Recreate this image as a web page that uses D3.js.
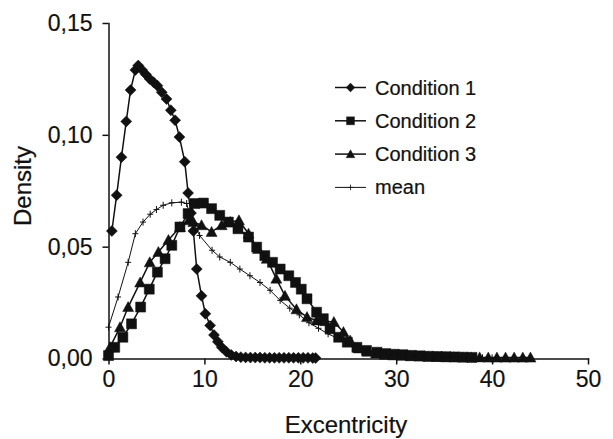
<!DOCTYPE html>
<html>
<head>
<meta charset="utf-8">
<script src="https://cdn.jsdelivr.net/npm/d3@7"></script>
<style>
  body { margin: 0; background: #fff; }
  svg { display: block; font-family: "Liberation Sans", Arial, sans-serif; }
  .axis path, .axis line { stroke: #111; stroke-width: 1.5; }
  .axis text { font-size: 23px; fill: #111; stroke: #111; stroke-width: 0.2; }
</style>
</head>
<body>
<div id="chart"></div>
<script>
// data: [excentricity, density]
var condition1 = [
  [0.35, 0.057], [0.85, 0.073], [1.35, 0.090], [1.85, 0.106], [2.3, 0.120],
  [2.8, 0.129], [3.1, 0.131], [3.5, 0.129], [3.9, 0.127], [4.3, 0.125],
  [4.7, 0.1235], [5.1, 0.122], [5.55, 0.119], [6.05, 0.116], [6.5, 0.111],
  [6.95, 0.1065], [7.4, 0.099], [7.95, 0.088], [8.3, 0.074], [8.6, 0.065],
  [8.85, 0.057], [9.2, 0.040], [9.7, 0.028], [10.1, 0.020], [10.6, 0.0148],
  [11.0, 0.0105], [11.4, 0.0075], [11.8, 0.005], [12.3, 0.003], [12.8, 0.0016],
  [13.3, 0.0009], [13.8, 0.0006], [14.3, 0.0005], [14.8, 0.0004], [15.3, 0.0004],
  [15.8, 0.0004], [16.3, 0.0003], [16.8, 0.0003], [17.3, 0.0003], [17.8, 0.0003],
  [18.3, 0.0003], [18.8, 0.0003], [19.3, 0.0003], [19.8, 0.0003], [20.3, 0.0003],
  [20.8, 0.0003], [21.3, 0.0002], [21.6, 0.0002]
];
var condition2 = [
  [0.0, 0.0013], [0.65, 0.005], [1.5, 0.0095], [2.4, 0.0155], [3.35, 0.023],
  [4.25, 0.031], [5.1, 0.0386], [5.9, 0.0446], [6.6, 0.0506], [7.45, 0.0588],
  [8.3, 0.0648], [9.0, 0.0693], [9.9, 0.0695], [10.75, 0.067], [11.6, 0.064],
  [12.5, 0.061], [13.5, 0.058], [14.6, 0.0543], [15.45, 0.0498], [16.3, 0.046],
  [17.1, 0.043], [17.9, 0.040], [18.8, 0.037], [19.5, 0.034], [20.1, 0.031],
  [20.7, 0.0267], [21.7, 0.0207], [22.4, 0.0178], [23.1, 0.0133], [24.0, 0.0095],
  [24.9, 0.0073], [25.9, 0.005], [26.9, 0.0036], [28.0, 0.0028], [28.9, 0.0022],
  [29.8, 0.0019], [30.7, 0.0017], [31.6, 0.0014], [32.5, 0.0012], [33.4, 0.001],
  [34.3, 0.0009], [35.2, 0.0008], [36.1, 0.0007], [37.0, 0.0006], [37.9, 0.0005]
];
var condition3 = [
  [0.15, 0.005], [1.2, 0.014], [2.05, 0.023], [3.3, 0.034], [4.3, 0.043],
  [5.2, 0.0476], [6.25, 0.053], [7.45, 0.0588], [8.35, 0.0618], [8.85, 0.061],
  [9.7, 0.0596], [10.75, 0.0566], [11.8, 0.0596], [12.7, 0.061], [13.6, 0.0618],
  [14.6, 0.0558], [15.6, 0.049], [16.5, 0.0446], [17.5, 0.0357], [18.4, 0.028],
  [19.6, 0.022], [20.7, 0.0185], [21.7, 0.017], [22.6, 0.0167], [23.5, 0.0163],
  [24.5, 0.0118], [25.2, 0.008], [26.1, 0.0045], [27.0, 0.003], [27.9, 0.0022],
  [28.8, 0.0017], [29.7, 0.0014], [30.6, 0.0012], [31.5, 0.001], [32.4, 0.0009],
  [33.3, 0.0008], [34.2, 0.0007], [35.1, 0.0006], [36.0, 0.0006], [36.9, 0.0005],
  [37.8, 0.0005], [38.7, 0.0005], [39.6, 0.0004], [40.5, 0.0004], [41.4, 0.0004],
  [42.3, 0.0004], [43.2, 0.0004], [44.0, 0.0004]
];
var meanSeries = [
  [0.0, 0.014], [1.0, 0.0275], [2.05, 0.043], [2.8, 0.0558], [3.6, 0.061],
  [4.35, 0.0645], [5.0, 0.0666], [5.7, 0.0685], [6.6, 0.0696], [7.6, 0.0699],
  [8.15, 0.0693], [8.5, 0.064], [9.5, 0.055], [10.8, 0.0484], [11.6, 0.0454],
  [12.7, 0.043], [13.7, 0.040], [14.75, 0.037], [15.8, 0.034], [16.85, 0.0305],
  [17.9, 0.026], [18.9, 0.0225], [19.9, 0.0195], [20.9, 0.016], [21.9, 0.0135],
  [22.9, 0.011], [23.9, 0.009], [24.9, 0.0072], [25.9, 0.0055], [26.9, 0.004],
  [27.9, 0.003], [28.9, 0.0023], [29.9, 0.0018], [31.0, 0.0014], [32.0, 0.0011],
  [33.0, 0.0009], [34.0, 0.0007], [35.0, 0.0006], [36.0, 0.0005], [37.0, 0.0004],
  [38.0, 0.0004], [39.0, 0.0003], [40.0, 0.0003]
];

var seriesNames = ['Condition 1', 'Condition 2', 'Condition 3', 'mean'];
var xTickValues = [0, 10, 20, 30, 40, 50];
var yTickValues = [0, 0.05, 0.10, 0.15];
var yTickLabels = ['0,00', '0,05', '0,10', '0,15'];

var width = 613, height = 439;
var plot = { left: 108.5, right: 588, top: 23, bottom: 358.5 };

var svg = d3.select('#chart')
    .append('svg')
    .attr('width', width)
    .attr('height', height);

var x = d3.scaleLinear().domain([0, 50]).range([plot.left, plot.right]);
var y = d3.scaleLinear().domain([0, 0.15]).range([plot.bottom, plot.top]);

// AXES
svg.append('g')
    .attr('class', 'axis')
    .attr('transform', 'translate(0,' + plot.bottom + ')')
    .call(d3.axisBottom(x).tickValues(xTickValues).tickSize(6).tickSizeOuter(0).tickPadding(6));

svg.append('g')
    .attr('class', 'axis')
    .attr('transform', 'translate(' + plot.left + ',0)')
    .call(d3.axisLeft(y).tickValues(yTickValues).tickSize(6).tickSizeOuter(0).tickPadding(10)
        .tickFormat(function(d, i) { return yTickLabels[i]; }));

svg.selectAll('.axis .domain').attr('stroke-linecap', 'square');

// axis titles
svg.append('text')
    .attr('x', 346)
    .attr('y', 433)
    .attr('text-anchor', 'middle')
    .style('font-size', '24px')
    .attr('fill', '#111')
    .attr('stroke', '#111')
    .attr('stroke-width', 0.2)
    .text('Excentricity');

svg.append('text')
    .attr('transform', 'translate(31,186) rotate(-90)')
    .attr('text-anchor', 'middle')
    .style('font-size', '24px')
    .attr('fill', '#111')
    .attr('stroke', '#111')
    .attr('stroke-width', 0.2)
    .text('Density');

// MARKERS
var markerPaths = {
    diamond: 'M0,-5.5L5.5,0L0,5.5L-5.5,0Z',
    square: 'M-5,-5H5V5H-5Z',
    triangle: 'M0,-5.5L5.5,4.5L-5.5,4.5Z',
    cross: 'M-3,0H3M0,-3.5V3.5'
};

var series = [
    { name: seriesNames[0], values: condition1, marker: 'diamond', width: 1.5 },
    { name: seriesNames[1], values: condition2, marker: 'square', width: 1.5 },
    { name: seriesNames[2], values: condition3, marker: 'triangle', width: 1.5 },
    { name: seriesNames[3], values: meanSeries, marker: 'cross', width: 1 }
];

var line = d3.line()
    .x(function(d) { return x(d[0]); })
    .y(function(d) { return y(d[1]); });

var drawMarker = function(sel, marker) {
    sel.attr('d', markerPaths[marker])
        .attr('fill', marker === 'cross' ? 'none' : '#111')
        .attr('stroke', '#111')
        .attr('stroke-width', marker === 'cross' ? 1 : 0.5);
};

series.forEach(function(s) {
    var g = svg.append('g').attr('class', 'series');
    g.append('path')
        .datum(s.values)
        .attr('d', line)
        .attr('fill', 'none')
        .attr('stroke', '#111')
        .attr('stroke-width', s.width);

    g.selectAll('path.marker')
        .data(s.values).enter()
        .append('path')
        .attr('class', 'marker')
        .attr('transform', function(d) { return 'translate(' + x(d[0]) + ',' + y(d[1]) + ')'; })
        .call(drawMarker, s.marker);
});

// LEGEND
var legend = svg.append('g')
    .attr('class', 'legend')
    .selectAll('g').data(series).enter()
    .append('g')
    .attr('transform', function(d, i) { return 'translate(335,' + (87.5 + i * 33.3) + ')'; });

legend.append('line')
    .attr('x1', 0).attr('x2', 31)
    .attr('stroke', '#111')
    .attr('stroke-width', function(d) { return d.width; });

legend.append('path')
    .attr('transform', 'translate(15.5,0)')
    .each(function(d) {
        d3.select(this).call(drawMarker, d.marker)
            .attr('transform', 'translate(15.5,0) scale(0.8)');
    });

legend.append('text')
    .attr('x', 40)
    .attr('dy', '0.35em')
    .style('font-size', '20px')
    .attr('fill', '#111')
    .attr('stroke', '#111')
    .attr('stroke-width', 0.2)
    .text(function(d) { return d.name; });
</script>
</body>
</html>
